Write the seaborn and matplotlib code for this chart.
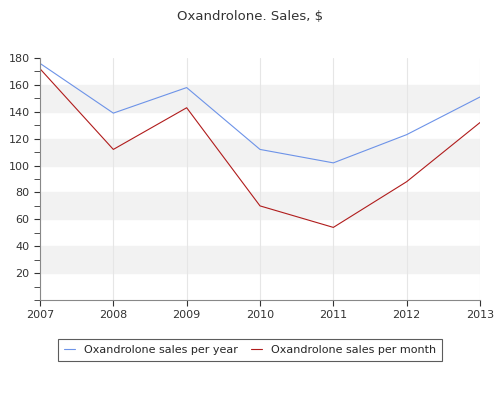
import matplotlib
matplotlib.use("Agg")
import matplotlib.pyplot as plt
import seaborn as sns
import pandas as pd

years = [2007, 2008, 2009, 2010, 2011, 2012, 2013]
per_year = [176, 139, 158, 112, 102, 123, 151]
per_month = [172, 112, 143, 70, 54, 88, 132]

sns.set_style("white")
plt.rcParams['font.family'] = ['DejaVu Sans']
fig = plt.figure(figsize=(5, 4), dpi=100)
ax = fig.add_axes([0.08, 0.25, 0.88, 0.605])
for lo in [20, 60, 100, 140]:
    ax.axhspan(lo, lo + 20, color="#f2f2f2", zorder=0)
df = pd.DataFrame({"year": years + years,
                   "value": per_year + per_month,
                   "series": ["Oxandrolone sales per year"] * 7 + ["Oxandrolone sales per month"] * 7})
sns.lineplot(data=df, x="year", y="value", hue="series",
             palette=["#6d93e8", "#b01c1c"], linewidth=0.8, ax=ax, legend=True)
ax.set_xlim(2007, 2013)
ax.set_ylim(0, 180)
ax.set_xticks(years)
ax.set_yticks(range(20, 181, 20))
ax.set_yticks(range(0, 181, 10), minor=True)
ax.tick_params(labelsize=8, colors="#333333", length=4, which="both", direction="out")
ax.tick_params(axis="y", which="both", left=True)
ax.tick_params(axis="x", bottom=True)
for x in years:
    ax.axvline(x, color="#e6e6e6", linewidth=0.8, zorder=0)
ax.set_xlabel("")
ax.set_ylabel("")
for s in ["top", "right"]:
    ax.spines[s].set_visible(False)
for s in ["left", "bottom"]:
    ax.spines[s].set_color("#888888")
    ax.spines[s].set_linewidth(0.8)
fig.suptitle("Oxandrolone. Sales, $", y=0.975, fontsize=9.5, color="#333333")
leg = ax.legend(loc="upper center", bbox_to_anchor=(0.477, -0.14), ncol=2,
                fontsize=8, frameon=True, fancybox=False, handlelength=1.0,
                borderpad=0.5, columnspacing=1.2)
leg.get_frame().set_edgecolor("#333333")
leg.get_frame().set_linewidth(0.8)
fig.savefig("out.png", dpi=100)
